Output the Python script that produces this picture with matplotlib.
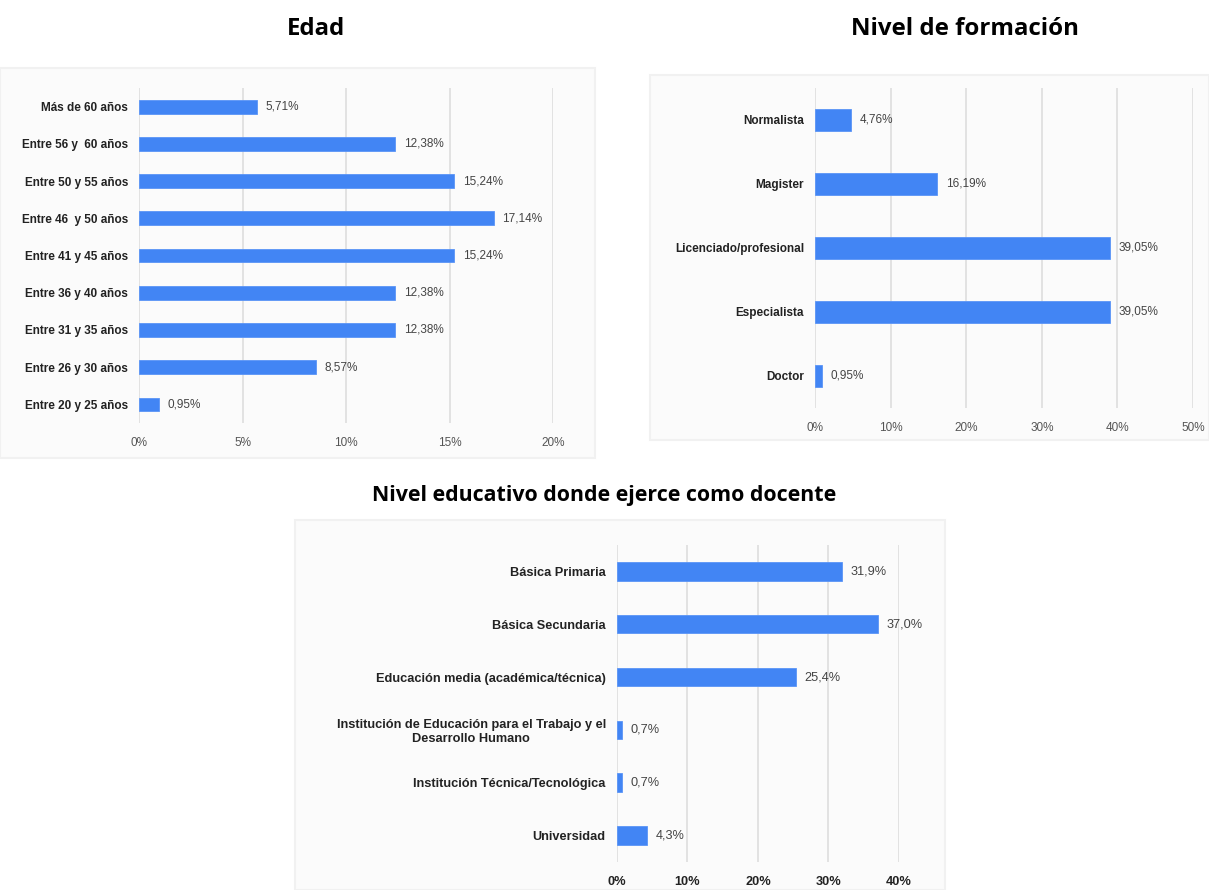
import matplotlib.pyplot as plt
from matplotlib.patches import Rectangle

# datos de las tres preguntas (porcentajes)
edad_cat = ['Más de 60 años', 'Entre 56 y  60 años', 'Entre 50 y 55 años', 'Entre 46  y 50 años',
            'Entre 41 y 45 años', 'Entre 36 y 40 años', 'Entre 31 y 35 años', 'Entre 26 y 30 años',
            'Entre 20 y 25 años']
edad_val = [5.71, 12.38, 15.24, 17.14, 15.24, 12.38, 12.38, 8.57, 0.95]

form_cat = ['Normalista', 'Magister', 'Licenciado/profesional', 'Especialista', 'Doctor']
form_val = [4.76, 16.19, 39.05, 39.05, 0.95]

nivel_cat = ['Básica Primaria', 'Básica Secundaria', 'Educación media (académica/técnica)',
             'Institución de Educación para el Trabajo y el\nDesarrollo Humano',
             'Institución Técnica/Tecnológica', 'Universidad']
nivel_val = [31.9, 37.0, 25.4, 0.7, 0.7, 4.3]

azul = '#4285F4'
plt.rcParams['font.family'] = ['Liberation Sans', 'DejaVu Sans']

fig = plt.figure(figsize=(12.09, 8.9), dpi=100)

# fondos grises suaves detras de cada grafico
for (x0, y0, x1, y1) in [(0, 68, 595, 458), (650, 75, 1209, 440), (295, 520, 945, 890)]:
    fig.patches.append(Rectangle((x0 / 1209, 1 - y1 / 890), (x1 - x0) / 1209, (y1 - y0) / 890,
                                 transform=fig.transFigure, facecolor='#fbfbfb',
                                 edgecolor='#f1f1f1', lw=1.5, zorder=-5))


def barras(ax, cats, vals, xmax, paso, dec, alto, fs_cat, fs_val, tick_bold=False):
    n = len(cats)
    y = list(range(n))[::-1]
    ax.barh(y, vals, height=alto, color=azul, edgecolor='#5b95f6', lw=0.6, zorder=3)
    for yi, v in zip(y, vals):
        txt = f'{v:.{dec}f}%'.replace('.', ',')
        ax.annotate(txt, (v, yi), xytext=(6, 0), textcoords='offset points',
                    va='center', ha='left', fontsize=fs_val, color='#444444')
    ax.set_yticks(y)
    ax.set_yticklabels(cats, fontsize=fs_cat, fontweight='bold', color='#222222',
                       multialignment='center')
    ax.set_xlim(0, xmax)
    ax.set_ylim(-0.5, n - 0.5)
    ticks = list(range(0, xmax + 1, paso))
    ax.set_xticks(ticks)
    ax.set_xticklabels([f'{t}%' for t in ticks], fontsize=fs_val,
                       color='#222222' if tick_bold else '#555555',
                       fontweight='bold' if tick_bold else 'normal')
    ax.grid(axis='x', color='#dddddd', lw=1.2, zorder=0)
    ax.tick_params(length=0, pad=8)
    ax.tick_params(axis='x', pad=10)
    for s in ax.spines.values():
        s.set_visible(False)
    ax.set_facecolor('none')
    ax.set_zorder(2)


ax1 = fig.add_axes([0.1150, 0.5247, 0.3424, 0.3764])
barras(ax1, edad_cat, edad_val, 20, 5, 2, 0.37, 8.5, 8.5)

ax2 = fig.add_axes([0.6741, 0.5416, 0.3127, 0.3596])
barras(ax2, form_cat, form_val, 50, 10, 2, 0.35, 8.5, 8.5)

ax3 = fig.add_axes([0.5103, 0.0315, 0.2333, 0.3562])
barras(ax3, nivel_cat, nivel_val, 40, 10, 1, 0.35, 9.2, 9.2, tick_bold=True)

# titulos
tit = dict(fontweight='bold', family=['Open Sans', 'DejaVu Sans'], ha='center', va='center')
fig.text(316 / 1209, 1 - 29 / 890, 'Edad', fontsize=17.3, **tit)
fig.text(965 / 1209, 1 - 29 / 890, 'Nivel de formación', fontsize=17.3, **tit)
fig.text(604 / 1209, 1 - 495 / 890, 'Nivel educativo donde ejerce como docente', fontsize=15.4, **tit)

fig.savefig('out.png', dpi=100, facecolor='white')
